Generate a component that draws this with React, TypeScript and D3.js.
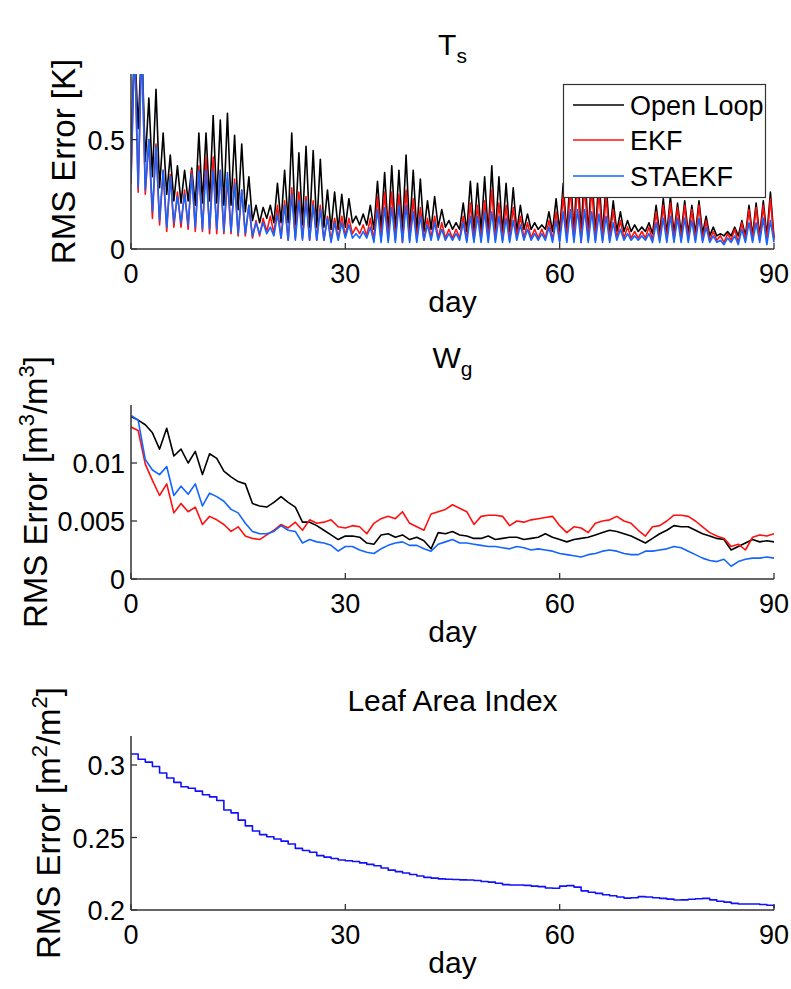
import React from 'react';
import * as d3 from 'd3';

// ---------- Panel 1: T_s RMS error (diurnal troughs at day d, peaks at day d+0.5) ----------
const OL_TROUGH = [
  0.45, 0.55, 0.40, 0.33, 0.28, 0.25, 0.22, 0.21, 0.22, 0.20,
  0.21, 0.22, 0.21, 0.20, 0.20, 0.18, 0.17, 0.13, 0.12, 0.14,
  0.12, 0.12, 0.12, 0.11, 0.11, 0.10, 0.10, 0.10, 0.09, 0.09,
  0.10, 0.12, 0.11, 0.11, 0.09, 0.09, 0.08, 0.08, 0.08, 0.08,
  0.08, 0.08, 0.09, 0.10, 0.10, 0.09, 0.09, 0.08, 0.08, 0.08,
  0.07, 0.07, 0.07, 0.08, 0.08, 0.09, 0.09, 0.09, 0.09, 0.08,
  0.08, 0.07, 0.07, 0.07, 0.07, 0.07, 0.07, 0.07, 0.08, 0.08,
  0.08, 0.08, 0.08, 0.07, 0.07, 0.07, 0.07, 0.07, 0.07, 0.07,
  0.07, 0.06, 0.06, 0.06, 0.06, 0.06, 0.06, 0.06, 0.06, 0.06,
  0.05,
];
const OL_PEAK = [
  0.95, 0.95, 0.69, 0.73, 0.53, 0.43, 0.38, 0.36, 0.37, 0.53,
  0.53, 0.61, 0.59, 0.62, 0.52, 0.48, 0.33, 0.20, 0.19, 0.20,
  0.30, 0.36, 0.53, 0.44, 0.47, 0.45, 0.41, 0.27, 0.26, 0.25,
  0.23, 0.15, 0.16, 0.20, 0.31, 0.35, 0.38, 0.36, 0.43, 0.36,
  0.32, 0.22, 0.24, 0.18, 0.13, 0.12, 0.21, 0.31, 0.30, 0.33,
  0.38, 0.33, 0.30, 0.28, 0.20, 0.16, 0.12, 0.11, 0.17, 0.23,
  0.30, 0.36, 0.40, 0.38, 0.36, 0.33, 0.30, 0.22, 0.17, 0.13,
  0.11, 0.10, 0.12, 0.20, 0.23, 0.24, 0.21, 0.22, 0.20, 0.22,
  0.15, 0.10, 0.07, 0.08, 0.10, 0.13, 0.20, 0.21, 0.22, 0.26,
];
const EKF_TROUGH = [
  0.30, 0.26, 0.25, 0.14, 0.11, 0.08, 0.10, 0.10, 0.09, 0.08,
  0.08, 0.07, 0.07, 0.07, 0.07, 0.06, 0.06, 0.05, 0.06, 0.08,
  0.07, 0.05, 0.04, 0.05, 0.05, 0.04, 0.04, 0.04, 0.04, 0.05,
  0.06, 0.07, 0.07, 0.06, 0.04, 0.04, 0.04, 0.04, 0.03, 0.04,
  0.04, 0.04, 0.05, 0.05, 0.05, 0.05, 0.05, 0.04, 0.04, 0.04,
  0.04, 0.04, 0.04, 0.04, 0.05, 0.05, 0.05, 0.05, 0.05, 0.04,
  0.04, 0.04, 0.04, 0.03, 0.04, 0.04, 0.04, 0.04, 0.05, 0.05,
  0.05, 0.05, 0.05, 0.04, 0.04, 0.04, 0.04, 0.04, 0.04, 0.04,
  0.04, 0.04, 0.04, 0.03, 0.04, 0.03, 0.04, 0.04, 0.04, 0.03,
  0.04,
];
const EKF_PEAK = [
  0.95, 0.95, 0.50, 0.48, 0.36, 0.34, 0.26, 0.27, 0.36, 0.38,
  0.42, 0.42, 0.36, 0.32, 0.32, 0.27, 0.20, 0.13, 0.14, 0.15,
  0.20, 0.22, 0.28, 0.26, 0.24, 0.22, 0.20, 0.15, 0.14, 0.15,
  0.14, 0.10, 0.11, 0.14, 0.24, 0.26, 0.26, 0.25, 0.27, 0.23,
  0.19, 0.14, 0.15, 0.12, 0.09, 0.09, 0.15, 0.21, 0.20, 0.22,
  0.27, 0.21, 0.20, 0.19, 0.15, 0.12, 0.09, 0.09, 0.13, 0.17,
  0.25, 0.28, 0.30, 0.29, 0.28, 0.26, 0.24, 0.18, 0.13, 0.10,
  0.08, 0.08, 0.10, 0.17, 0.20, 0.21, 0.19, 0.20, 0.18, 0.20,
  0.13, 0.08, 0.06, 0.07, 0.09, 0.12, 0.18, 0.19, 0.20, 0.23,
];
const STA_TROUGH = [
  0.32, 0.28, 0.27, 0.17, 0.13, 0.10, 0.12, 0.12, 0.11, 0.10,
  0.09, 0.09, 0.09, 0.08, 0.08, 0.07, 0.07, 0.06, 0.07, 0.07,
  0.06, 0.05, 0.04, 0.04, 0.04, 0.04, 0.04, 0.04, 0.03, 0.04,
  0.05, 0.05, 0.05, 0.05, 0.03, 0.03, 0.03, 0.03, 0.03, 0.03,
  0.03, 0.04, 0.04, 0.04, 0.04, 0.04, 0.04, 0.03, 0.03, 0.03,
  0.03, 0.03, 0.03, 0.03, 0.04, 0.04, 0.04, 0.04, 0.04, 0.03,
  0.03, 0.03, 0.03, 0.03, 0.03, 0.03, 0.03, 0.03, 0.04, 0.04,
  0.04, 0.04, 0.04, 0.03, 0.03, 0.03, 0.03, 0.03, 0.03, 0.03,
  0.03, 0.03, 0.03, 0.02, 0.03, 0.02, 0.03, 0.03, 0.03, 0.02,
  0.03,
];
const STA_PEAK = [
  0.95, 0.95, 0.50, 0.47, 0.36, 0.33, 0.24, 0.25, 0.34, 0.36,
  0.36, 0.36, 0.36, 0.35, 0.30, 0.27, 0.20, 0.12, 0.12, 0.10,
  0.16, 0.20, 0.25, 0.22, 0.22, 0.20, 0.18, 0.14, 0.12, 0.12,
  0.11, 0.07, 0.08, 0.10, 0.18, 0.19, 0.19, 0.20, 0.20, 0.17,
  0.15, 0.11, 0.12, 0.09, 0.07, 0.07, 0.12, 0.15, 0.15, 0.17,
  0.17, 0.15, 0.14, 0.13, 0.11, 0.09, 0.07, 0.07, 0.10, 0.13,
  0.17, 0.18, 0.18, 0.18, 0.17, 0.16, 0.15, 0.12, 0.09, 0.07,
  0.06, 0.06, 0.07, 0.12, 0.14, 0.15, 0.14, 0.14, 0.13, 0.14,
  0.10, 0.06, 0.04, 0.05, 0.06, 0.09, 0.12, 0.12, 0.14, 0.13,
];

// ---------- Panel 2: W_g RMS error, one value per day 0..90 ----------
const OL_WG = [
  0.0140, 0.0137, 0.0133, 0.0126, 0.0112, 0.0130, 0.0106, 0.0112, 0.0100, 0.0110,
  0.0090, 0.0108, 0.0104, 0.0093, 0.0088, 0.0084, 0.0082, 0.0065, 0.0063, 0.0062,
  0.0066, 0.0071, 0.0066, 0.0062, 0.0049, 0.0049, 0.0046, 0.0042, 0.0038, 0.0034,
  0.0037, 0.0037, 0.0036, 0.0031, 0.0030, 0.0038, 0.0039, 0.0036, 0.0038, 0.0034,
  0.0036, 0.0033, 0.0026, 0.0040, 0.0039, 0.0041, 0.0038, 0.0037, 0.0035, 0.0035,
  0.0037, 0.0034, 0.0035, 0.0036, 0.0036, 0.0034, 0.0035, 0.0036, 0.0039, 0.0036,
  0.0034, 0.0032, 0.0034, 0.0035, 0.0036, 0.0038, 0.0040, 0.0042, 0.0041, 0.0039,
  0.0037, 0.0034, 0.0031, 0.0035, 0.0039, 0.0042, 0.0046, 0.0045, 0.0045, 0.0042,
  0.0039, 0.0037, 0.0035, 0.0034, 0.0025, 0.0028, 0.0031, 0.0034, 0.0032, 0.0033,
  0.0032,
];
const EKF_WG = [
  0.0131, 0.0128, 0.0099, 0.0085, 0.0072, 0.0082, 0.0057, 0.0065, 0.0058, 0.0062,
  0.0047, 0.0054, 0.0051, 0.0047, 0.0041, 0.0045, 0.0037, 0.0035, 0.0034, 0.0038,
  0.0042, 0.0047, 0.0044, 0.0049, 0.0042, 0.0051, 0.0048, 0.0049, 0.0051, 0.0045,
  0.0044, 0.0046, 0.0045, 0.0039, 0.0048, 0.0052, 0.0054, 0.0052, 0.0058, 0.0048,
  0.0045, 0.0042, 0.0056, 0.0058, 0.0060, 0.0064, 0.0061, 0.0058, 0.0047, 0.0054,
  0.0055, 0.0055, 0.0054, 0.0046, 0.0050, 0.0049, 0.0051, 0.0052, 0.0053, 0.0054,
  0.0046, 0.0040, 0.0045, 0.0044, 0.0040, 0.0048, 0.0050, 0.0051, 0.0054, 0.0050,
  0.0048, 0.0042, 0.0037, 0.0045, 0.0046, 0.0050, 0.0055, 0.0055, 0.0054, 0.0050,
  0.0045, 0.0040, 0.0037, 0.0035, 0.0028, 0.0030, 0.0025, 0.0036, 0.0038, 0.0037,
  0.0039,
];
const STA_WG = [
  0.0141, 0.0137, 0.0103, 0.0094, 0.0090, 0.0097, 0.0072, 0.0080, 0.0073, 0.0082,
  0.0063, 0.0074, 0.0071, 0.0067, 0.0060, 0.0057, 0.0048, 0.0041, 0.0039, 0.0039,
  0.0041, 0.0046, 0.0042, 0.0041, 0.0031, 0.0034, 0.0032, 0.0031, 0.0029, 0.0024,
  0.0028, 0.0028, 0.0025, 0.0023, 0.0022, 0.0026, 0.0029, 0.0031, 0.0032, 0.0029,
  0.0029, 0.0026, 0.0024, 0.0030, 0.0032, 0.0034, 0.0031, 0.0031, 0.0030, 0.0029,
  0.0028, 0.0028, 0.0027, 0.0026, 0.0028, 0.0027, 0.0025, 0.0026, 0.0025, 0.0024,
  0.0022, 0.0021, 0.0020, 0.0019, 0.0021, 0.0022, 0.0024, 0.0025, 0.0024, 0.0022,
  0.0021, 0.0021, 0.0024, 0.0024, 0.0025, 0.0026, 0.0028, 0.0027, 0.0024, 0.0021,
  0.0018, 0.0016, 0.0015, 0.0017, 0.0011, 0.0015, 0.0017, 0.0018, 0.0018, 0.0019,
  0.0018,
];

// ---------- Panel 3: Leaf Area Index RMS error, one value per day 0..90 ----------
const LAI = [
  0.3076, 0.3040, 0.3020, 0.2990, 0.2945, 0.2910, 0.2880, 0.2850, 0.2840, 0.2820,
  0.2795, 0.2780, 0.2755, 0.2690, 0.2670, 0.2620, 0.2580, 0.2545, 0.2520, 0.2505,
  0.2490, 0.2475, 0.2455, 0.2425, 0.2410, 0.2398, 0.2375, 0.2365, 0.2355, 0.2345,
  0.2340, 0.2335, 0.2325, 0.2315, 0.2305, 0.2290, 0.2275, 0.2265, 0.2255, 0.2245,
  0.2235, 0.2225, 0.2220, 0.2215, 0.2212, 0.2210, 0.2208, 0.2207, 0.2203, 0.2197,
  0.2192, 0.2185, 0.2175, 0.2172, 0.2172, 0.2170, 0.2165, 0.2161, 0.2152, 0.2150,
  0.2165, 0.2168, 0.2158, 0.2132, 0.2122, 0.2115, 0.2105, 0.2098, 0.2090, 0.2082,
  0.2085, 0.2092, 0.2090, 0.2084, 0.2080, 0.2075, 0.2069, 0.2070, 0.2074, 0.2078,
  0.2080, 0.2070, 0.2060, 0.2054, 0.2046, 0.2041, 0.2041, 0.2041, 0.2038, 0.2033,
  0.2011,
];

const X_TICKS = [0, 30, 60, 90];
const P1_YTICKS = [0, 0.5];
const P1_YLABELS = ['0', '0.5'];
const P2_YTICKS = [0, 0.005, 0.01];
const P2_YLABELS = ['0', '0.005', '0.01'];
const P3_YTICKS = [0.2, 0.25, 0.3];
const P3_YLABELS = ['0.2', '0.25', '0.3'];
const LEGEND_NAMES = ['Open Loop', 'EKF', 'STAEKF'];

const FONT = '"Liberation Sans", Arial, Helvetica, sans-serif';
const C_OL = '#000000';
const C_EKF = '#ff1010';
const C_STA = '#1464ff';
const C_LAI = '#1010ff';
const AX = '#333333';

const X0 = 131;
const X1 = 774;

type Pt = [number, number];

function diurnal(troughs: number[], peaks: number[]): Pt[] {
  const pts: Pt[] = [];
  peaks.forEach((p, d) => {
    pts.push([d, troughs[d]]);
    pts.push([d + 0.5, p]);
  });
  pts.push([peaks.length, troughs[peaks.length]]);
  return pts;
}

function daily(vals: number[]): Pt[] {
  return vals.map((v, d) => [d, v] as Pt);
}

interface PanelProps {
  id: string;
  top: number;
  bottom: number;
  domain: [number, number];
  yTicks: number[];
  yLabels: string[];
  series: { pts: Pt[]; color: string; step?: boolean }[];
  children?: React.ReactNode;
}

function Panel({ id, top, bottom, domain, yTicks, yLabels, series, children }: PanelProps) {
  const x = d3.scaleLinear().domain([0, 90]).range([X0, X1]);
  const y = d3.scaleLinear().domain(domain).range([bottom, top]);
  const line = d3.line<Pt>().x((d) => x(d[0])).y((d) => y(d[1]));
  const stepLine = d3
    .line<Pt>()
    .x((d) => x(d[0]))
    .y((d) => y(d[1]))
    .curve(d3.curveStepAfter);
  return (
    <g>
      <defs>
        <clipPath id={id}>
          <rect x={X0} y={top} width={X1 - X0 + 1} height={bottom - top} />
        </clipPath>
      </defs>
      <g clipPath={`url(#${id})`}>
        {series.map((s, i) => (
          <path
            key={i}
            d={(s.step ? stepLine : line)(s.pts) || ''}
            fill="none"
            stroke={s.color}
            strokeWidth={1.6}
            strokeLinejoin="round"
          />
        ))}
      </g>
      {/* axes */}
      <line x1={X0} x2={X0} y1={top} y2={bottom} stroke={AX} strokeWidth={1.5} />
      <line x1={X0} x2={X1} y1={bottom} y2={bottom} stroke={AX} strokeWidth={1.5} />
      {X_TICKS.map((t) => (
        <g key={`xt${t}`}>
          <line x1={x(t)} x2={x(t)} y1={bottom} y2={bottom - 6} stroke={AX} strokeWidth={1.3} />
          <text
            x={x(t)}
            y={bottom + 34}
            textAnchor="middle"
            fontSize={27}
            fontFamily={FONT}
            fill="#000"
          >
            {t}
          </text>
        </g>
      ))}
      {yTicks.map((t, i) => (
        <g key={`yt${t}`}>
          <line x1={X0} x2={X0 + 6} y1={y(t)} y2={y(t)} stroke={AX} strokeWidth={1.3} />
          <text
            x={X0 - 6}
            y={y(t) + 10}
            textAnchor="end"
            fontSize={27}
            fontFamily={FONT}
            fill="#000"
          >
            {yLabels[i]}
          </text>
        </g>
      ))}
      <text
        x={(X0 + X1) / 2}
        y={bottom + 63}
        textAnchor="middle"
        fontSize={30}
        fontFamily={FONT}
        fill="#000"
      >
        day
      </text>
      {children}
    </g>
  );
}

export default function App() {
  const olPts = diurnal(OL_TROUGH, OL_PEAK);
  const ekfPts = diurnal(EKF_TROUGH, EKF_PEAK);
  const staPts = diurnal(STA_TROUGH, STA_PEAK);
  const cx = (X0 + X1) / 2;
  const legendColors = [C_OL, C_EKF, C_STA];
  const legendY = [105, 140, 176];

  return (
    <svg
      width={791}
      height={989}
      viewBox="0 0 791 989"
      style={{ position: 'absolute', left: 0, top: 0, background: '#fff' }}
    >
      <rect x={0} y={0} width={791} height={989} fill="#fff" />

      {/* Panel 1 */}
      <Panel
        id="clip1"
        top={74}
        bottom={249}
        domain={[0, 0.8]}
        yTicks={P1_YTICKS}
        yLabels={P1_YLABELS}
        series={[
          { pts: olPts, color: C_OL },
          { pts: ekfPts, color: C_EKF },
          { pts: staPts, color: C_STA },
        ]}
      >
        <text x={cx} y={55} textAnchor="middle" fontSize={30} fontFamily={FONT} fill="#000">
          T<tspan fontSize={21} dy={8}>s</tspan>
        </text>
        <text
          transform="translate(75,161.5) rotate(-90)"
          textAnchor="middle"
          fontSize={33}
          fontFamily={FONT}
          fill="#000"
        >
          RMS Error [K]
        </text>
        <g>
          <rect x={563.5} y={84.5} width={202} height={113} fill="#fff" stroke={AX} strokeWidth={1.2} />
          {LEGEND_NAMES.map((n, i) => (
            <g key={n}>
              <line x1={573} x2={624} y1={legendY[i]} y2={legendY[i]} stroke={legendColors[i]} strokeWidth={1.6} />
              <text x={630} y={legendY[i] + 10} fontSize={27} fontFamily={FONT} fill="#000">
                {n}
              </text>
            </g>
          ))}
        </g>
      </Panel>

      {/* Panel 2 */}
      <Panel
        id="clip2"
        top={405}
        bottom={579}
        domain={[0, 0.015]}
        yTicks={P2_YTICKS}
        yLabels={P2_YLABELS}
        series={[
          { pts: daily(OL_WG), color: C_OL },
          { pts: daily(EKF_WG), color: C_EKF },
          { pts: daily(STA_WG), color: C_STA },
        ]}
      >
        <text x={cx} y={368} textAnchor="middle" fontSize={30} fontFamily={FONT} fill="#000">
          W<tspan fontSize={21} dy={8}>g</tspan>
        </text>
        <text
          transform="translate(47,492) rotate(-90)"
          textAnchor="middle"
          fontSize={33}
          fontFamily={FONT}
          fill="#000"
        >
          RMS Error [m<tspan fontSize={22} dy={-13}>3</tspan>
          <tspan dy={13}>/m</tspan>
          <tspan fontSize={22} dy={-13}>3</tspan>
          <tspan dy={13}>]</tspan>
        </text>
      </Panel>

      {/* Panel 3 */}
      <Panel
        id="clip3"
        top={736}
        bottom={910}
        domain={[0.2, 0.32]}
        yTicks={P3_YTICKS}
        yLabels={P3_YLABELS}
        series={[{ pts: daily(LAI), color: C_LAI, step: true }]}
      >
        <text x={cx} y={711} textAnchor="middle" fontSize={30} fontFamily={FONT} fill="#000">
          Leaf Area Index
        </text>
        <text
          transform="translate(60,823) rotate(-90)"
          textAnchor="middle"
          fontSize={33}
          fontFamily={FONT}
          fill="#000"
        >
          RMS Error [m<tspan fontSize={22} dy={-13}>2</tspan>
          <tspan dy={13}>/m</tspan>
          <tspan fontSize={22} dy={-13}>2</tspan>
          <tspan dy={13}>]</tspan>
        </text>
      </Panel>
    </svg>
  );
}
